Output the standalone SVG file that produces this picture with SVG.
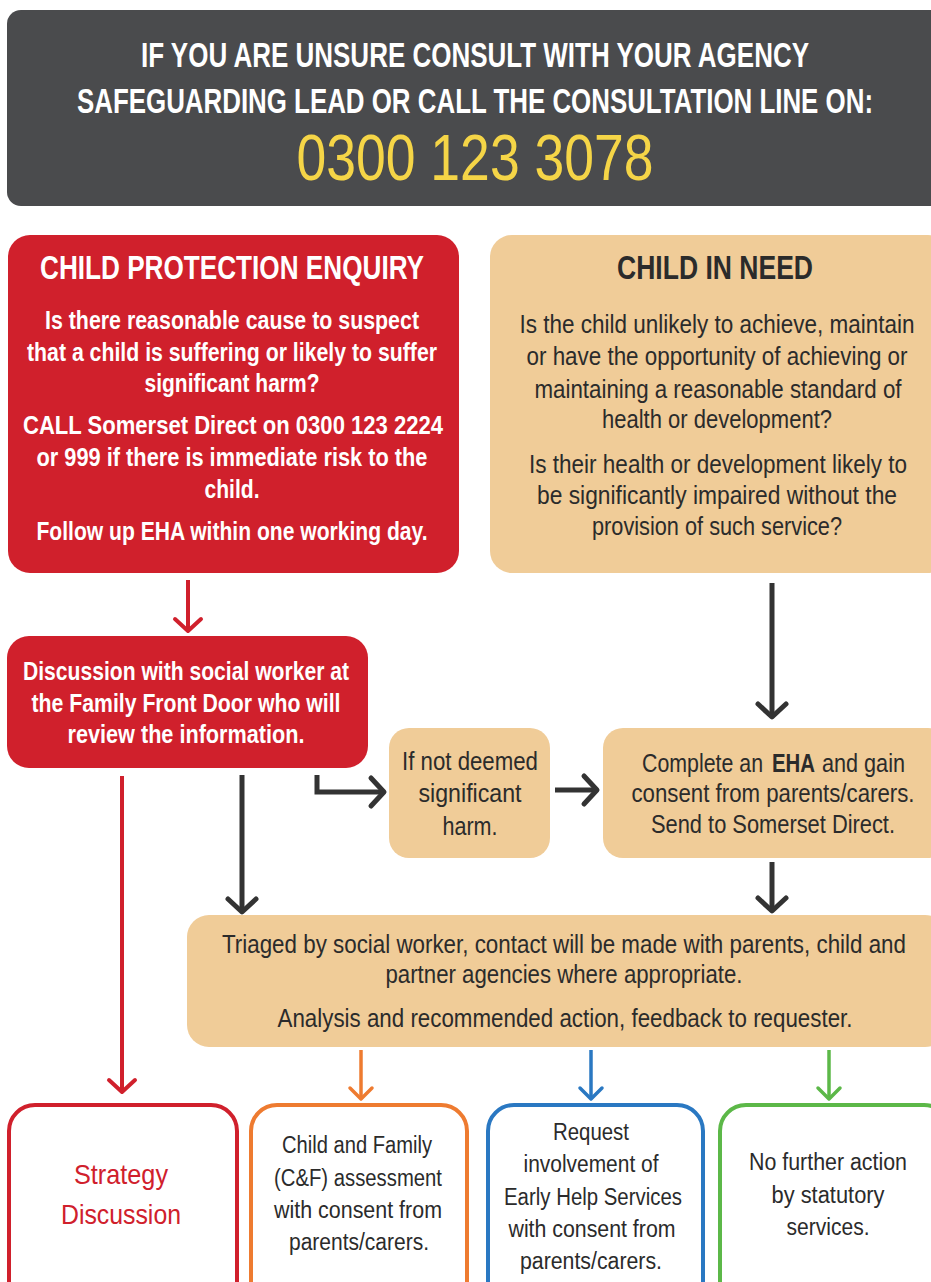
<svg xmlns="http://www.w3.org/2000/svg" width="931" height="1282" viewBox="0 0 931 1282">
<style>
text{font-family:"Liberation Sans",Arial,sans-serif;text-anchor:middle}
.w{fill:#ffffff;font-weight:bold}
.d{fill:#2b2b2b}
.ban{fill:#ffffff;font-size:35px;font-weight:bold}
.ph{fill:#f5d547;font-size:64px}
.t{font-size:33px;font-weight:bold}
.b{font-size:25px}
.s{font-size:23px}
.st{text-anchor:start}
.red{fill:#d0202c}
.tan{fill:#f0cc98}
.out{fill:#ffffff;stroke-width:4}
.cn{fill:none;stroke-linecap:butt}
</style>
<defs>
<marker id="mR" markerUnits="userSpaceOnUse" markerWidth="30" markerHeight="30" refX="14" refY="14" orient="auto" overflow="visible"><path d="M2,1 L14,14 L2,27" fill="none" stroke="#d0202c" stroke-width="4" stroke-linecap="round" stroke-linejoin="round"/></marker>
<marker id="mD" markerUnits="userSpaceOnUse" markerWidth="30" markerHeight="30" refX="14" refY="14" orient="auto" overflow="visible"><path d="M1,0 L14,14 L1,28" fill="none" stroke="#333333" stroke-width="5" stroke-linecap="round" stroke-linejoin="round"/></marker>
<marker id="mO" markerUnits="userSpaceOnUse" markerWidth="30" markerHeight="30" refX="13" refY="13" orient="auto" overflow="visible"><path d="M2,2 L13,13 L2,24" fill="none" stroke="#ee7b30" stroke-width="3.5" stroke-linecap="round" stroke-linejoin="round"/></marker>
<marker id="mB" markerUnits="userSpaceOnUse" markerWidth="30" markerHeight="30" refX="13" refY="13" orient="auto" overflow="visible"><path d="M2,2 L13,13 L2,24" fill="none" stroke="#2a78c2" stroke-width="3.5" stroke-linecap="round" stroke-linejoin="round"/></marker>
<marker id="mG" markerUnits="userSpaceOnUse" markerWidth="30" markerHeight="30" refX="13" refY="13" orient="auto" overflow="visible"><path d="M2,2 L13,13 L2,24" fill="none" stroke="#5cb848" stroke-width="3.5" stroke-linecap="round" stroke-linejoin="round"/></marker>
</defs>
<rect width="931" height="1282" fill="#ffffff"/>

<g id="banner">
<rect x="7" y="10" width="940" height="196" rx="14" fill="#4a4b4d"/>
<text class="ban" x="475" y="67" textLength="668" lengthAdjust="spacingAndGlyphs">IF YOU ARE UNSURE CONSULT WITH YOUR AGENCY</text>
<text class="ban" x="475" y="113" textLength="796" lengthAdjust="spacingAndGlyphs">SAFEGUARDING LEAD OR CALL THE CONSULTATION LINE ON:</text>
<text class="ph" x="475" y="180" textLength="357" lengthAdjust="spacingAndGlyphs">0300 123 3078</text>
</g>

<g id="child-protection">
<rect class="red" x="8" y="235" width="451" height="338" rx="22"/>
<text class="w t" x="232" y="279" textLength="384" lengthAdjust="spacingAndGlyphs">CHILD PROTECTION ENQUIRY</text>
<text class="w b" x="232" y="329" textLength="374" lengthAdjust="spacingAndGlyphs">Is there reasonable cause to suspect</text>
<text class="w b" x="232" y="361" textLength="410" lengthAdjust="spacingAndGlyphs">that a child is suffering or likely to suffer</text>
<text class="w b" x="232" y="392" textLength="175" lengthAdjust="spacingAndGlyphs">significant harm?</text>
<text class="w b" x="233" y="434" textLength="420" lengthAdjust="spacingAndGlyphs">CALL Somerset Direct on 0300 123 2224</text>
<text class="w b" x="232" y="466" textLength="391" lengthAdjust="spacingAndGlyphs">or 999 if there is immediate risk to the</text>
<text class="w b" x="232" y="498" textLength="55" lengthAdjust="spacingAndGlyphs">child.</text>
<text class="w b" x="232" y="540" textLength="391" lengthAdjust="spacingAndGlyphs">Follow up EHA within one working day.</text>
</g>

<g id="child-in-need">
<rect class="tan" x="490" y="235" width="460" height="338" rx="22"/>
<text class="d t" x="715" y="279" textLength="196" lengthAdjust="spacingAndGlyphs">CHILD IN NEED</text>
<text class="d b" x="717" y="333" textLength="395" lengthAdjust="spacingAndGlyphs">Is the child unlikely to achieve, maintain</text>
<text class="d b" x="717" y="365" textLength="381" lengthAdjust="spacingAndGlyphs">or have the opportunity of achieving or</text>
<text class="d b" x="718" y="398" textLength="367" lengthAdjust="spacingAndGlyphs">maintaining a reasonable standard of</text>
<text class="d b" x="717" y="428" textLength="230" lengthAdjust="spacingAndGlyphs">health or development?</text>
<text class="d b" x="718" y="473" textLength="378" lengthAdjust="spacingAndGlyphs">Is their health or development likely to</text>
<text class="d b" x="717" y="504" textLength="360" lengthAdjust="spacingAndGlyphs">be significantly impaired without the</text>
<text class="d b" x="717" y="535" textLength="250" lengthAdjust="spacingAndGlyphs">provision of such service?</text>
</g>

<g id="discussion">
<rect class="red" x="7" y="636" width="361" height="132" rx="22"/>
<text class="w b" x="186" y="680" textLength="326" lengthAdjust="spacingAndGlyphs">Discussion with social worker at</text>
<text class="w b" x="186" y="712" textLength="309" lengthAdjust="spacingAndGlyphs">the Family Front Door who will</text>
<text class="w b" x="186" y="743" textLength="237" lengthAdjust="spacingAndGlyphs">review the information.</text>
</g>

<g id="not-significant">
<rect class="tan" x="389" y="728" width="161" height="130" rx="20"/>
<text class="d b" x="470" y="770" textLength="136" lengthAdjust="spacingAndGlyphs">If not deemed</text>
<text class="d b" x="470" y="802" textLength="103" lengthAdjust="spacingAndGlyphs">significant</text>
<text class="d b" x="470" y="835" textLength="55" lengthAdjust="spacingAndGlyphs">harm.</text>
</g>

<g id="complete-eha">
<rect class="tan" x="603" y="728" width="345" height="130" rx="20"/>
<text class="d b st" x="642" y="772" textLength="121" lengthAdjust="spacingAndGlyphs">Complete an</text>
<text class="d b st" x="772" y="772" font-weight="bold" textLength="43" lengthAdjust="spacingAndGlyphs">EHA</text>
<text class="d b st" x="822" y="772" textLength="83" lengthAdjust="spacingAndGlyphs">and gain</text>
<text class="d b" x="773" y="802" textLength="283" lengthAdjust="spacingAndGlyphs">consent from parents/carers.</text>
<text class="d b" x="773" y="833" textLength="244" lengthAdjust="spacingAndGlyphs">Send to Somerset Direct.</text>
</g>

<g id="triage">
<rect class="tan" x="187" y="915" width="760" height="132" rx="22"/>
<text class="d b" x="564" y="953" textLength="684" lengthAdjust="spacingAndGlyphs">Triaged by social worker, contact will be made with parents, child and</text>
<text class="d b" x="564" y="983" textLength="357" lengthAdjust="spacingAndGlyphs">partner agencies where appropriate.</text>
<text class="d b" x="565" y="1027" textLength="575" lengthAdjust="spacingAndGlyphs">Analysis and recommended action, feedback to requester.</text>
</g>

<g id="strategy">
<rect class="out" x="9" y="1105" width="228" height="210" rx="26" stroke="#d0202c"/>
<text x="121" y="1184" font-size="28" fill="#d0202c" textLength="94" lengthAdjust="spacingAndGlyphs">Strategy</text>
<text x="121" y="1224" font-size="28" fill="#d0202c" textLength="120" lengthAdjust="spacingAndGlyphs">Discussion</text>
</g>

<g id="cf-assessment">
<rect class="out" x="251" y="1105" width="216" height="210" rx="26" stroke="#ee7b30"/>
<text class="d s" x="357" y="1153" textLength="150" lengthAdjust="spacingAndGlyphs">Child and Family</text>
<text class="d s" x="358" y="1186" textLength="168" lengthAdjust="spacingAndGlyphs">(C&amp;F) assessment</text>
<text class="d s" x="358" y="1218" textLength="168" lengthAdjust="spacingAndGlyphs">with consent from</text>
<text class="d s" x="359" y="1250" textLength="140" lengthAdjust="spacingAndGlyphs">parents/carers.</text>
</g>

<g id="early-help">
<rect class="out" x="488" y="1105" width="215" height="210" rx="26" stroke="#2a78c2"/>
<text class="d s" x="591" y="1140" textLength="76" lengthAdjust="spacingAndGlyphs">Request</text>
<text class="d s" x="591" y="1172" textLength="135" lengthAdjust="spacingAndGlyphs">involvement of</text>
<text class="d s" x="593" y="1205" textLength="178" lengthAdjust="spacingAndGlyphs">Early Help Services</text>
<text class="d s" x="592" y="1237" textLength="167" lengthAdjust="spacingAndGlyphs">with consent from</text>
<text class="d s" x="591" y="1269" textLength="142" lengthAdjust="spacingAndGlyphs">parents/carers.</text>
</g>

<g id="no-further-action">
<rect class="out" x="720" y="1105" width="230" height="210" rx="26" stroke="#5cb848"/>
<text class="d s" x="828" y="1170" textLength="158" lengthAdjust="spacingAndGlyphs">No further action</text>
<text class="d s" x="828" y="1203" textLength="113" lengthAdjust="spacingAndGlyphs">by statutory</text>
<text class="d s" x="828" y="1235" textLength="83" lengthAdjust="spacingAndGlyphs">services.</text>
</g>

<g id="connectors">
<path class="cn" d="M188,580 V631" stroke="#d0202c" stroke-width="4" marker-end="url(#mR)"/>
<path class="cn" d="M122,776 V1092" stroke="#d0202c" stroke-width="4" marker-end="url(#mR)"/>
<path class="cn" d="M242,775 V912" stroke="#333333" stroke-width="5" marker-end="url(#mD)"/>
<path class="cn" d="M317,775 V792 H384" stroke="#333333" stroke-width="5" stroke-linejoin="miter" marker-end="url(#mD)"/>
<path class="cn" d="M555,790 H597" stroke="#333333" stroke-width="5" marker-end="url(#mD)"/>
<path class="cn" d="M772,583 V717" stroke="#333333" stroke-width="5" marker-end="url(#mD)"/>
<path class="cn" d="M772,862 V911" stroke="#333333" stroke-width="5" marker-end="url(#mD)"/>
<path class="cn" d="M361,1050 V1099" stroke="#ee7b30" stroke-width="3.5" marker-end="url(#mO)"/>
<path class="cn" d="M591,1050 V1099" stroke="#2a78c2" stroke-width="3.5" marker-end="url(#mB)"/>
<path class="cn" d="M829,1050 V1099" stroke="#5cb848" stroke-width="3.5" marker-end="url(#mG)"/>
</g>
</svg>
